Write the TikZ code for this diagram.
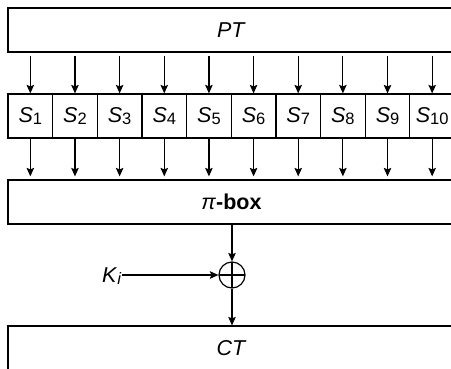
\documentclass[tikz,border=0pt]{standalone}
\usepackage{fontspec}
\setmainfont{Liberation Sans}
\usetikzlibrary{arrows.meta}
\newcommand\mysub[1]{\raisebox{-2.5pt}{\fontsize{16.5}{16.5}\selectfont #1}}
\begin{document}
\begin{tikzpicture}[x=1pt,y=-1pt, line width=1.2pt,
  box/.style={draw, rectangle, minimum height=44pt, inner sep=0pt, font=\fontsize{21.5}{24}\selectfont},
  arr/.style={-{Stealth[length=8.5pt,width=7.5pt,inset=1.5pt]}},
  lbl/.style={inner sep=0pt, font=\fontsize{21.5}{24}\selectfont}]
\useasboundingbox (0,0) rectangle (451,368);
\clip (0,0) rectangle (451,368);
\node[box, minimum width=447pt] (PT) at (231.5,30) {\textit{PT}};
\node[box, minimum width=447pt] (pibox) at (231.5,202) {\textit{π}\textbf{-box}};
\node[box, minimum width=447pt] (CT) at (231.5,348) {\textit{CT}};
\foreach \i in {1,...,10} {
  \node[box, minimum width=44.65pt] (S\i) at ({8+44.65*(\i-0.5)},116) {\textit{S}\mysub{\i}};
  \draw[arr, shorten <=3pt] (S\i.north |- PT.south) -- (S\i.north);
  \draw[arr, shorten >=3pt] (S\i.south) -- (S\i.south |- pibox.north);
}
\node[circle, draw, minimum size=26pt, inner sep=0pt,
  path picture={\draw (path picture bounding box.north) -- (path picture bounding box.south)
    (path picture bounding box.west) -- (path picture bounding box.east);}] (xor) at (232,275) {};
\node[lbl, anchor=base east] (K) at (122,282) {\textit{K}\mysub{\textit{i}}};
\draw[arr] (K.east |- xor.west) -- (xor.west);
\draw[arr] (xor.north |- pibox.south) -- (xor.north);
\draw[arr] (xor.south) -- (xor.south |- CT.north);
\end{tikzpicture}
\end{document}
